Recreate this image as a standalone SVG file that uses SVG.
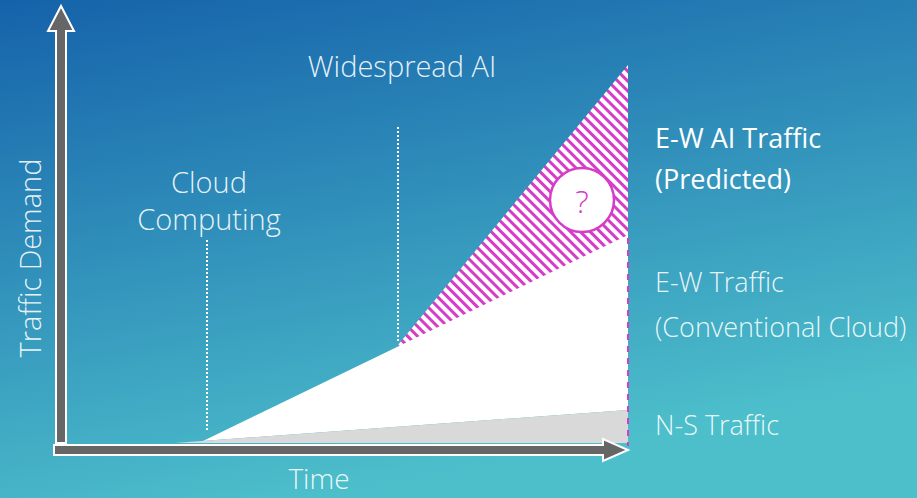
<svg xmlns="http://www.w3.org/2000/svg" width="917" height="498" viewBox="0 0 917 498">
<defs>
<linearGradient id="bg" x1="0" y1="0" x2="0.35" y2="1">
<stop offset="0" stop-color="#1562aa"/>
<stop offset="1" stop-color="#4dbfcb"/>
</linearGradient>
<pattern id="hatch" patternUnits="userSpaceOnUse" width="7" height="7" patternTransform="rotate(-45)">
<rect width="7" height="7" fill="#ffffff"/>
<rect width="3" height="7" fill="#d63cc8"/>
</pattern>
<style>
.lbl{font-family:"Open Sans","Liberation Sans",sans-serif;font-weight:300;fill:#ffffff;fill-opacity:0.9}
.hi{font-family:"Open Sans","Liberation Sans",sans-serif;font-weight:400;fill:#ffffff}
.axis{fill:#666666;stroke:#ffffff;stroke-width:2;stroke-linejoin:miter}
.dot{stroke:#ffffff;stroke-width:2;stroke-dasharray:2 2;fill:none}
</style>
</defs>
<rect width="917" height="498" fill="url(#bg)"/>
<g id="areas">
<polygon id="ew-ai-traffic" points="398,345 628,65 628,240 400,348" fill="url(#hatch)"/>
<polygon id="ew-traffic" points="175,443 203,441 628,235 628,410" fill="#ffffff"/>
<polygon id="ns-traffic" points="175,443 628,410 628,443" fill="#d9d9d9"/>
</g>
<g id="connectors">
<line class="dot" x1="207" y1="240" x2="207" y2="432"/>
<line class="dot" x1="398" y1="127" x2="398" y2="343"/>
<line x1="628" y1="238" x2="628" y2="446" stroke="#d63cc8" stroke-width="2" stroke-dasharray="6 6"/>
</g>
<g id="question">
<circle cx="582" cy="200" r="32" fill="#ffffff" stroke="#d63cc8" stroke-width="2.5"/>
<text x="582" y="213" text-anchor="middle" font-family="Open Sans, Liberation Sans, sans-serif" font-weight="300" font-size="32" fill="#d63cc8">?</text>
</g>
<g id="y-axis">
<polygon class="axis" points="56,443 56,31 48,31 61,6 74,31 66,31 66,443"/>
</g>
<g id="x-axis">
<polygon class="axis" points="54,445 603,445 603,439 628,450 603,461 603,455 54,455"/>
</g>
<g id="labels">
<text class="lbl" x="402" y="77" font-size="29" text-anchor="middle">Widespread AI</text>
<text class="lbl" x="209" y="193" font-size="29" text-anchor="middle">Cloud</text>
<text class="lbl" x="209" y="230" font-size="29" text-anchor="middle">Computing</text>
<text class="hi" x="655" y="148" font-size="27">E-W AI Traffic</text>
<text class="hi" x="655" y="189" font-size="27">(Predicted)</text>
<text class="lbl" x="655" y="292" font-size="27">E-W Traffic</text>
<text class="lbl" x="655" y="337" font-size="27">(Conventional Cloud)</text>
<text class="lbl" x="655" y="435" font-size="27">N-S Traffic</text>
<text class="lbl" x="319" y="489" font-size="28" text-anchor="middle">Time</text>
<text class="lbl" x="0" y="0" font-size="29" text-anchor="middle" transform="translate(41,258) rotate(-90)">Traffic Demand</text>
</g>
</svg>
